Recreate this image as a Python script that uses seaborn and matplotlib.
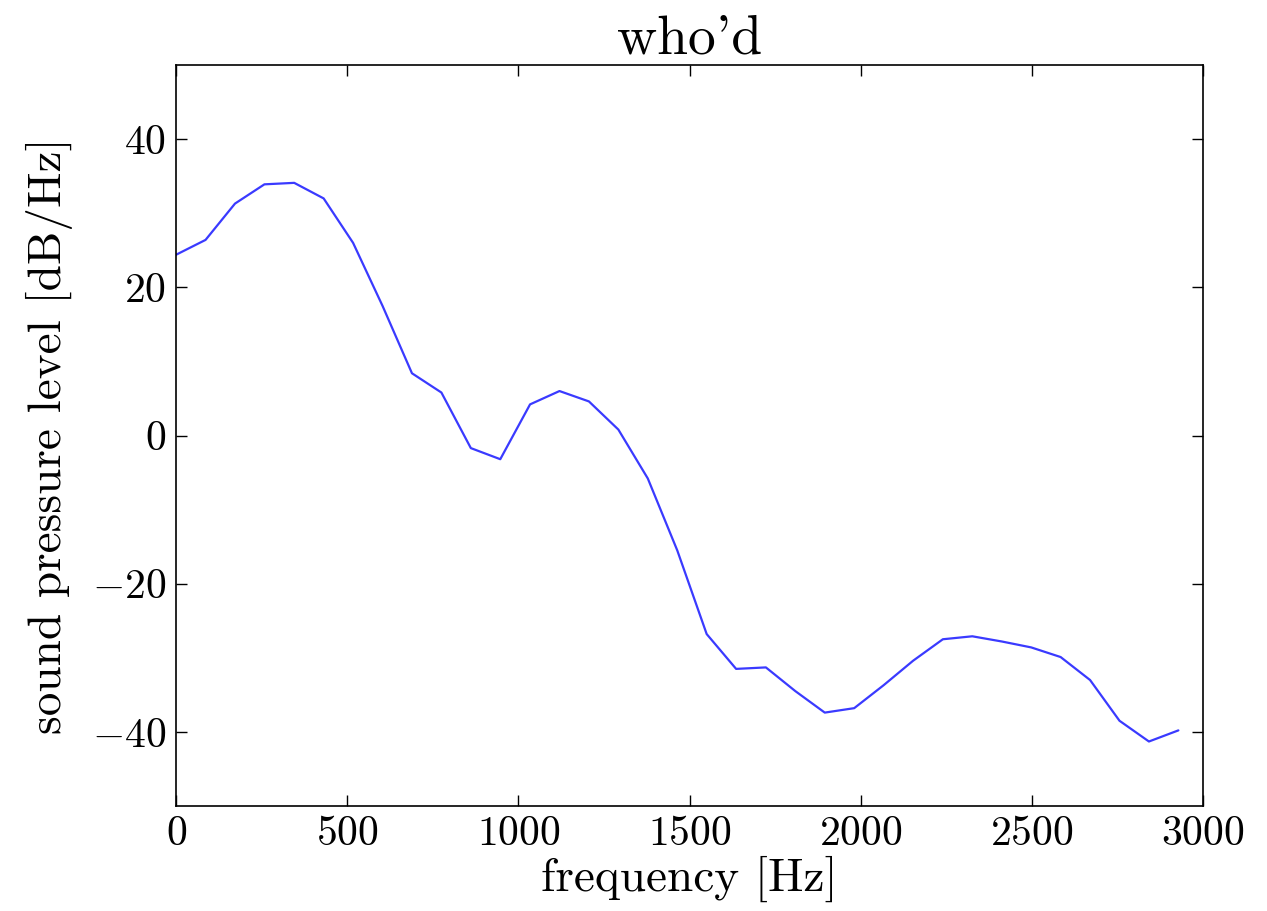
import numpy as np
import pandas as pd
import seaborn as sns
import matplotlib.pyplot as plt

# spectrum values (bin spacing ~86 Hz)
freq = [0, 86, 172, 258, 345, 431, 517, 603, 689, 775, 861, 947, 1034, 1120,
        1206, 1292, 1378, 1464, 1550, 1636, 1723, 1809, 1895, 1981, 2067,
        2153, 2240, 2326, 2412, 2498, 2584, 2670, 2756, 2842, 2928]
spl = [24.4, 26.4, 31.3, 33.9, 34.1, 32.0, 26.0, 17.5, 8.4, 5.8, -1.7, -3.2,
       4.2, 6.0, 4.6, 0.8, -5.8, -15.5, -26.8, -31.5, -31.3, -34.5, -37.4,
       -36.8, -33.7, -30.4, -27.5, -27.1, -27.8, -28.6, -29.9, -33.0, -38.5,
       -41.3, -39.8]

data = pd.DataFrame({'freq': freq, 'spl': spl})

sns.set_style('ticks')
plt.rcParams['font.family'] = ['serif']
plt.rcParams['font.serif'] = ['cmr10', 'DejaVu Serif']
plt.rcParams['mathtext.fontset'] = 'cm'
plt.rcParams['axes.formatter.use_mathtext'] = True
plt.rcParams['axes.unicode_minus'] = True
plt.rcParams['text.color'] = 'black'
plt.rcParams['axes.labelcolor'] = 'black'
plt.rcParams['xtick.color'] = 'black'
plt.rcParams['ytick.color'] = 'black'

fig = plt.figure(figsize=(12.67, 9.11), dpi=100)
ax = fig.add_axes([0.139, 0.1153, 0.8105, 0.8133])

sns.lineplot(x='freq', y='spl', data=data, ax=ax, color='#3a3aff', linewidth=1.6)

ax.set_xlim(0, 3000)
ax.set_ylim(-50, 50)
ax.set_xticks([0, 500, 1000, 1500, 2000, 2500, 3000])
ax.set_yticks([-40, -20, 0, 20, 40])

ax.set_title("who'd", fontsize=40, pad=8)
ax.set_xlabel('frequency [Hz]', fontsize=34, labelpad=2)
ax.set_ylabel('sound pressure level [dB/Hz]', fontsize=34, labelpad=14)

ax.tick_params(axis='both', which='major', direction='in', length=8, width=1,
               labelsize=30, top=True, right=True, pad=7)

for spine in ax.spines.values():
    spine.set_visible(True)
    spine.set_color('black')
    spine.set_linewidth(1.2)

fig.savefig('out.png', dpi=100)
